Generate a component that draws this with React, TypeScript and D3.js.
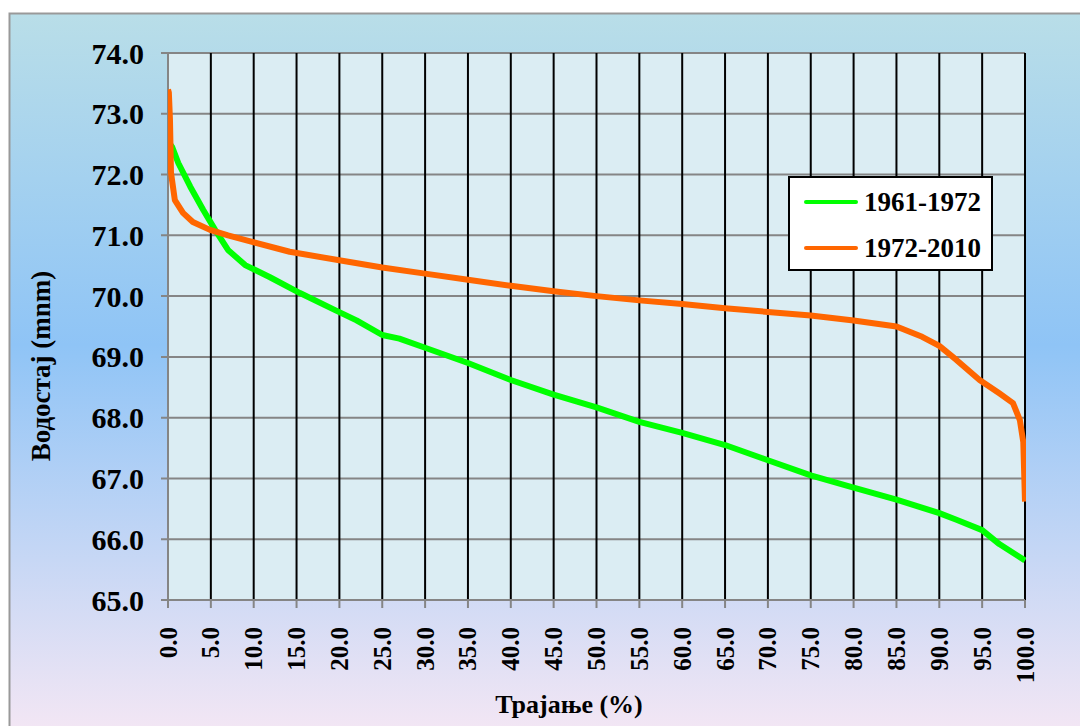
import React, { useRef, useEffect } from "react"
import * as d3 from "d3"

type Pt = { x: number; y: number }

// 1961-1972 duration curve (percent of time, water level)
const greenX = [0, 0.5, 1.2, 2.6, 4.1, 5.5, 7, 9, 11.9, 15.4, 19.5, 22, 25, 27, 30, 35, 40, 45, 50, 55, 60, 65, 70, 75, 80, 85, 90, 92, 95, 97, 100]
const greenY = [72.55, 72.45, 72.19, 71.8, 71.42, 71.09, 70.76, 70.51, 70.31, 70.05, 69.77, 69.6, 69.36, 69.3, 69.15, 68.9, 68.62, 68.38, 68.17, 67.93, 67.75, 67.55, 67.3, 67.05, 66.85, 66.65, 66.43, 66.32, 66.15, 65.92, 65.65]

// 1972-2010 duration curve
const orangeX = [0, 0.1, 0.23, 0.35, 0.8, 1.75, 2.9, 4.9, 7, 9.6, 14.2, 21.2, 25, 30, 35, 40, 45, 50, 55, 60, 65, 70, 75, 80, 85, 88, 90, 92, 94.7, 97, 98.6, 99.4, 99.8, 100]
const orangeY = [73.4, 73.35, 72.9, 72.03, 71.58, 71.37, 71.22, 71.09, 71.0, 70.9, 70.73, 70.56, 70.47, 70.37, 70.27, 70.17, 70.08, 70.0, 69.93, 69.87, 69.8, 69.74, 69.68, 69.6, 69.5, 69.33, 69.18, 68.95, 68.62, 68.4, 68.24, 67.96, 67.6, 66.62]

const xTicks = d3.range(0, 101, 5)
const yTicks = d3.range(65, 74.01, 1)
const seriesNames = ["1961-1972", "1972-2010"]
const seriesColors = ["#00ff00", "#ff6600"]

const W = 1080
const H = 726

const App: React.FC = () => {
  const svgRef = useRef<SVGSVGElement | null>(null)

  useEffect(() => {
    if (!svgRef.current) return
    const svg = d3.select(svgRef.current)
    svg.selectAll("*").remove()

    const left = 168, right = 1025, top = 53, bottom = 600
    const x = d3.scaleLinear().domain([0, 100]).range([left, right])
    const y = d3.scaleLinear().domain([65, 74]).range([bottom, top])
    const font = "'Liberation Serif', 'Times New Roman', serif"

    // background gradient
    const defs = svg.append("defs")
    const grad = defs.append("linearGradient").attr("id", "bg").attr("x1", 0).attr("y1", 0).attr("x2", 0).attr("y2", 1)
    grad.append("stop").attr("offset", "0%").attr("stop-color", "#b9dee8")
    grad.append("stop").attr("offset", "45%").attr("stop-color", "#8fc4f6")
    grad.append("stop").attr("offset", "100%").attr("stop-color", "#f8e8f4")

    svg.append("rect").attr("width", W).attr("height", H).attr("fill", "#fff")
    svg.append("rect")
      .attr("x", 9.5).attr("y", 13.5).attr("width", W + 10).attr("height", H + 10)
      .attr("fill", "url(#bg)").attr("stroke", "#999").attr("stroke-width", 2)

    // plot area
    svg.append("rect")
      .attr("x", left).attr("y", top).attr("width", right - left).attr("height", bottom - top)
      .attr("fill", "#dbedf3")

    // horizontal grid (gray)
    svg.append("g").selectAll("line").data(yTicks).join("line")
      .attr("x1", left - 7).attr("x2", right)
      .attr("y1", (d) => y(d)).attr("y2", (d) => y(d))
      .attr("stroke", "#858585").attr("stroke-width", 2)

    // vertical grid (black)
    svg.append("g").selectAll("line").data(xTicks.slice(1)).join("line")
      .attr("x1", (d) => x(d)).attr("x2", (d) => x(d))
      .attr("y1", top).attr("y2", bottom)
      .attr("stroke", "#000").attr("stroke-width", 2)

    // axes
    svg.append("line").attr("x1", left).attr("x2", left).attr("y1", top).attr("y2", bottom)
      .attr("stroke", "#858585").attr("stroke-width", 2)
    svg.append("line").attr("x1", left - 7).attr("x2", right).attr("y1", bottom).attr("y2", bottom)
      .attr("stroke", "#858585").attr("stroke-width", 2)
    svg.append("g").selectAll("line").data(xTicks).join("line")
      .attr("x1", (d) => x(d)).attr("x2", (d) => x(d))
      .attr("y1", bottom).attr("y2", bottom + 8)
      .attr("stroke", "#858585").attr("stroke-width", 2)

    // y tick labels
    svg.append("g").selectAll("text").data(yTicks).join("text")
      .attr("x", 144).attr("y", (d) => y(d))
      .attr("text-anchor", "end").attr("dominant-baseline", "central")
      .attr("font-family", font).attr("font-weight", "bold").attr("font-size", 30)
      .text((d) => d.toFixed(1))

    // x tick labels
    svg.append("g").selectAll("text").data(xTicks).join("text")
      .attr("transform", (d) => `translate(${x(d)},627) rotate(-90)`)
      .attr("text-anchor", "end").attr("dominant-baseline", "central")
      .attr("font-family", font).attr("font-weight", "bold").attr("font-size", 25)
      .text((d) => d.toFixed(1))

    // axis titles
    svg.append("text")
      .attr("transform", "translate(41,366) rotate(-90)")
      .attr("text-anchor", "middle").attr("dominant-baseline", "central")
      .attr("font-family", font).attr("font-weight", "bold").attr("font-size", 27)
      .text("Водостај (mnm)")
    svg.append("text")
      .attr("x", 569).attr("y", 713)
      .attr("text-anchor", "middle")
      .attr("font-family", font).attr("font-weight", "bold").attr("font-size", 26)
      .text("Трајање (%)")

    // lines
    const line = d3.line<Pt>().x((d) => x(d.x)).y((d) => y(d.y))
    const series: Pt[][] = [
      greenX.map((v, i) => ({ x: v, y: greenY[i] })),
      orangeX.map((v, i) => ({ x: v, y: orangeY[i] })),
    ]
    svg.append("defs").append("clipPath").attr("id", "clip")
      .append("rect").attr("x", left).attr("y", top - 5).attr("width", right - left + 1).attr("height", bottom - top + 10)
    series.forEach((s, i) => {
      svg.append("path").datum(s)
        .attr("clip-path", "url(#clip)")
        .attr("fill", "none").attr("stroke", seriesColors[i]).attr("stroke-width", 6)
        .attr("stroke-linejoin", "round")
        .attr("d", line)
    })

    // legend
    const lg = svg.append("g")
    lg.append("rect").attr("x", 789).attr("y", 177).attr("width", 203).attr("height", 93)
      .attr("fill", "#fff").attr("stroke", "#000").attr("stroke-width", 2)
    seriesNames.forEach((name, i) => {
      const ly = 202 + i * 46
      lg.append("line").attr("x1", 806).attr("x2", 856).attr("y1", ly).attr("y2", ly)
        .attr("stroke", seriesColors[i]).attr("stroke-width", 4).attr("stroke-linecap", "round")
      lg.append("text").attr("x", 864).attr("y", ly).attr("dominant-baseline", "central")
        .attr("font-family", font).attr("font-weight", "bold").attr("font-size", 27)
        .text(name)
    })
  }, [])

  return (
    <svg ref={svgRef} width={W} height={H} style={{ position: "absolute", left: 0, top: 0 }}></svg>
  )
}

export default App
